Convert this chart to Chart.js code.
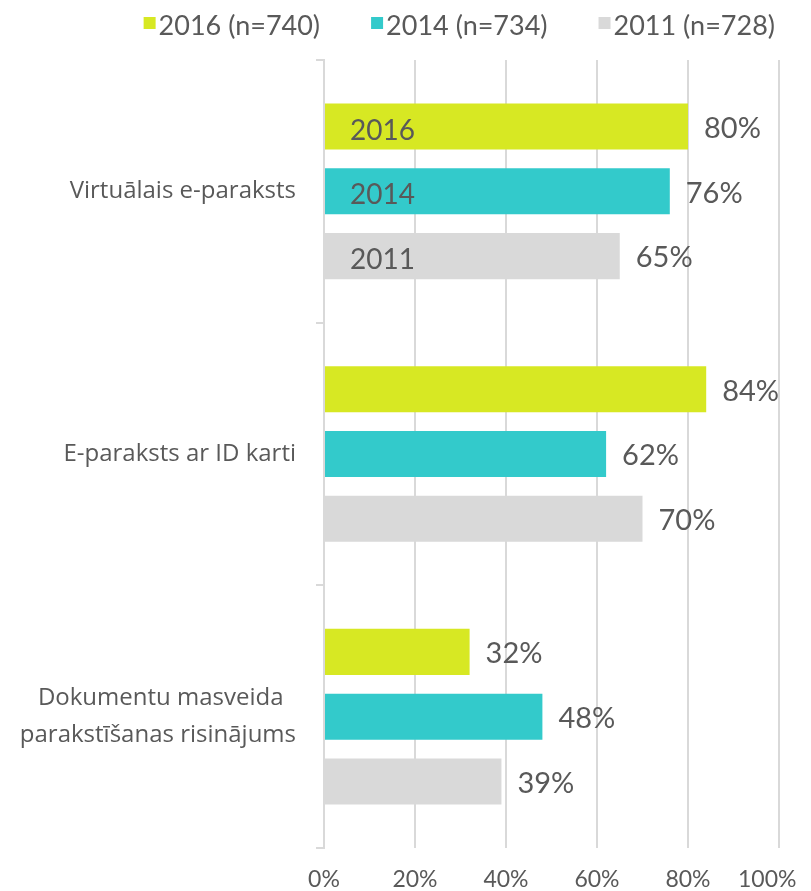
<!DOCTYPE html>
<html><head><meta charset="utf-8">
<script src="https://cdn.jsdelivr.net/npm/chart.js@4/dist/chart.umd.min.js"></script>
<style>html,body{margin:0;padding:0;background:#fff}#wrap{width:811px;height:891px}</style>
</head><body><div id="wrap"><canvas id="c" width="811" height="891"></canvas></div>
<script>
const categories = [["Virtuālais e-paraksts"], ["E-paraksts ar ID karti"], ["Dokumentu masveida  ", "parakstīšanas risinājums"]];
const seriesNames = ["2016 (n=740)", "2014 (n=734)", "2011 (n=728)"];
const yearTags = ["2016", "2014", "2011"];
const xTickLabels = ["0%", "20%", "40%", "60%", "80%", "100%"];
const values2016 = [80, 84, 32];
const values2014 = [76, 62, 48];
const values2011 = [65, 70, 39];
const colors = ["#D7E823", "#33CACB", "#D9D9D9"];
const FONT = "Lato, 'Open Sans', sans-serif";
const CATFONT = "'Open Sans', Lato, sans-serif";
const TXT = "#595959";

const labelPlugin = {
  id: 'labels',
  afterDatasetsDraw(chart) {
    const ctx = chart.ctx;
    ctx.save();
    chart.data.datasets.forEach((ds, di) => {
      const meta = chart.getDatasetMeta(di);
      meta.data.forEach((bar, i) => {
        ctx.fillStyle = TXT;
        ctx.font = "29px " + FONT;
        ctx.textBaseline = 'middle';
        ctx.textAlign = 'left';
        ctx.fillText(ds.data[i] + '%', bar.x + 16, bar.y + 2);
        if (i === 0) {
          ctx.font = "28px " + FONT;
          ctx.fillText(yearTags[di], bar.base + 25, bar.y + 4);
        }
      });
    });
    ctx.restore();
  }
};

// legend drawn from dataset labels/colours, right-aligned
const legendPlugin = {
  id: 'customLegend',
  afterDraw(chart) {
    const ctx = chart.ctx;
    ctx.save();
    ctx.font = "27px " + FONT;
    ctx.textBaseline = 'middle';
    ctx.textAlign = 'left';
    const box = 12, gap = 3, spacing = 51, right = 775, yMid = 26;
    const items = chart.data.datasets.map(ds => ({text: ds.label, color: ds.backgroundColor, w: ctx.measureText(ds.label).width}));
    let total = items.reduce((a, it) => a + box + gap + it.w, 0) + spacing * (items.length - 1);
    let x = right - total;
    items.forEach(it => {
      ctx.fillStyle = it.color;
      ctx.fillRect(x, yMid - 9, box, box);
      ctx.fillStyle = TXT;
      ctx.fillText(it.text, x + box + gap, yMid);
      x += box + gap + it.w + spacing;
    });
    ctx.restore();
  }
};

new Chart(document.getElementById('c'), {
  type: 'bar',
  data: {
    labels: categories,
    datasets: [
      {label: seriesNames[0], data: values2016, backgroundColor: colors[0]},
      {label: seriesNames[1], data: values2014, backgroundColor: colors[1]},
      {label: seriesNames[2], data: values2011, backgroundColor: colors[2]}
    ]
  },
  options: {
    indexAxis: 'y',
    responsive: false,
    animation: false,
    categoryPercentage: 0.74,
    barPercentage: 0.71,
    layout: {padding: {left: 0, right: 32, top: 60, bottom: 0}},
    plugins: {
      legend: {display: false},
      tooltip: {enabled: false}
    },
    scales: {
      x: {
        min: 0, max: 100,
        ticks: {
          stepSize: 20, maxRotation: 0, minRotation: 0, autoSkip: false,
          callback: (v, i) => (i === xTickLabels.length - 1) ? xTickLabels[i] + '    ' : xTickLabels[i],
          color: TXT, font: {family: FONT, size: 23}, padding: 18
        },
        grid: {color: '#D9D9D9', lineWidth: 2, drawTicks: false},
        border: {display: false},
        afterFit(s) { s.height = 43; s.paddingRight = 0; s.paddingLeft = 0; }
      },
      y: {
        ticks: {color: TXT, font: {family: CATFONT, size: 24, lineHeight: 1.58}, padding: 20},
        grid: {offset: true, drawOnChartArea: false, drawTicks: true, tickLength: 8, color: '#D9D9D9', lineWidth: 2},
        border: {display: true, color: '#D9D9D9', width: 2},
        afterFit(s) { s.width = 324; }
      }
    }
  },
  plugins: [labelPlugin, legendPlugin]
});
</script></body></html>
